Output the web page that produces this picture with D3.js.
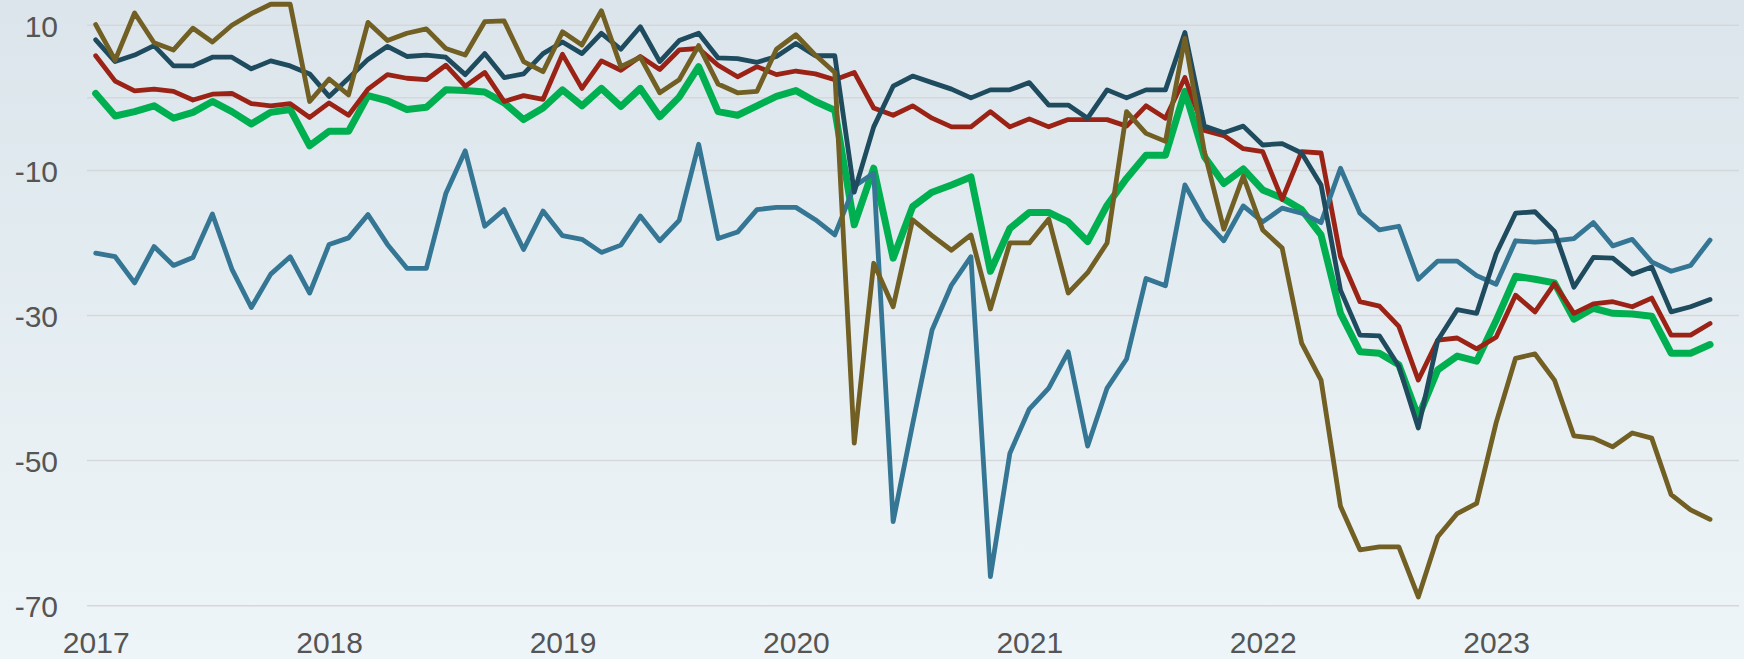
<!DOCTYPE html>
<html>
<head>
<meta charset="utf-8">
<script src="https://cdn.jsdelivr.net/npm/d3@7"></script>
<style>
  html, body { margin: 0; padding: 0; background: #e6eef2; }
  svg { display: block; }
</style>
</head>
<body>
<svg id="svg"></svg>
<script>
// monthly values, Jan 2017 .. Dec 2023
var years = ["2017", "2018", "2019", "2020", "2021", "2022", "2023"];
var yTicks = [10, -10, -30, -50, -70];
var yGrid = [10, 0, -10, -30, -50, -70];

var olive = [10.1, 5.2, 11.7, 7.6, 6.6, 9.6, 7.7, 10.0, 11.6, 12.9, 12.9, -0.5, 2.6, 0.4,
  10.4, 7.9, 8.9, 9.5, 6.8, 5.9, 10.5, 10.6, 5.0, 3.6, 9.1, 7.3, 12.0, 4.3, 5.6,
  0.7, 2.5, 7.2, 1.9, 0.7, 0.9, 6.7, 8.7, 5.9, 3.5, -47.6, -22.8, -28.8, -16.8, -19.0,
  -21.0, -18.9, -29.1, -20.0, -20.0, -16.7, -26.9, -24.1, -20.0, -1.9, -4.9, -6.0, 8.2, -7.4, -18.1,
  -10.8, -18.2, -20.7, -33.8, -38.9, -56.3, -62.3, -61.9, -61.9, -68.8, -60.5, -57.3, -55.9, -44.8, -35.9,
  -35.3, -38.9, -46.6, -46.9, -48.1, -46.2, -46.9, -54.7, -56.8, -58.1];

var navy = [8.0, 5.0, 5.9, 7.2, 4.4, 4.4, 5.6, 5.6, 4.0, 5.1, 4.4, 3.3, 0.2, 2.7,
  5.3, 7.1, 5.7, 5.9, 5.6, 3.2, 6.1, 2.8, 3.3, 6.1, 7.7, 6.1, 8.9, 6.7, 9.8,
  5.0, 7.9, 8.9, 5.5, 5.4, 4.9, 5.7, 7.5, 5.8, 5.8, -13.0, -4.0, 1.6, 3.0, 2.1,
  1.2, 0.0, 1.1, 1.1, 2.1, -1.0, -1.0, -2.8, 1.1, 0.0, 1.1, 1.1, 9.0, -3.9, -4.8,
  -3.9, -6.5, -6.3, -7.6, -12.0, -26.5, -32.7, -32.8, -37.0, -45.5, -33.4, -29.2, -29.7, -21.5, -15.9,
  -15.7, -18.4, -26.1, -22.0, -22.1, -24.3, -23.3, -29.5, -28.8, -27.8];

var red = [5.8, 2.3, 0.95, 1.2, 0.9, -0.3, 0.5, 0.6, -0.8, -1.1, -0.8, -2.7, -0.7, -2.4,
  1.2, 3.2, 2.7, 2.5, 4.5, 1.6, 3.5, -0.5, 0.3, -0.2, 6.0, 1.3, 5.1, 3.8, 5.7,
  3.9, 6.6, 6.8, 4.5, 2.9, 4.3, 3.2, 3.7, 3.3, 2.5, 3.5, -1.4, -2.4, -1.1, -2.8,
  -4.0, -4.0, -1.9, -4.0, -2.9, -4.0, -3.0, -3.0, -3.0, -3.9, -1.1, -2.8, 2.8, -4.5, -5.2,
  -7.0, -7.4, -14.0, -7.4, -7.6, -21.9, -28.1, -28.7, -31.5, -38.9, -33.4, -33.1, -34.6, -33.0, -27.2,
  -29.5, -25.6, -29.7, -28.4, -28.1, -28.8, -27.6, -32.7, -32.7, -31.1];

var green = [0.6, -2.5, -1.9, -1.1, -2.8, -2.0, -0.5, -1.9, -3.6, -2.0, -1.6, -6.6, -4.6, -4.6,
  0.3, -0.4, -1.6, -1.3, 1.1, 1.0, 0.8, -0.7, -3.0, -1.4, 1.1, -1.1, 1.3, -1.2, 1.3,
  -2.6, 0.1, 4.3, -1.9, -2.4, -1.1, 0.2, 1.0, -0.5, -1.7, -17.5, -9.7, -22.1, -15.0, -13.0,
  -12.0, -10.9, -23.9, -18.0, -15.8, -15.8, -17.1, -19.8, -14.8, -11.1, -7.9, -7.9, 0.9, -8.1, -11.8,
  -9.8, -12.7, -13.8, -15.4, -18.9, -29.7, -35.0, -35.2, -36.8, -44.0, -37.5, -35.6, -36.3, -30.7, -24.6,
  -25.0, -25.5, -30.5, -29.0, -29.7, -29.8, -30.1, -35.2, -35.2, -34.0];

var steel = [-21.4, -21.9, -25.5, -20.5, -23.1, -22.0, -16.0, -23.6, -28.9, -24.3, -21.9, -26.9, -20.2, -19.3,
  -16.1, -20.2, -23.5, -23.5, -13.2, -7.3, -17.7, -15.4, -20.9, -15.6, -19.0, -19.5, -21.3, -20.3, -16.3,
  -19.7, -16.9, -6.4, -19.4, -18.5, -15.4, -15.1, -15.1, -16.8, -18.9, -12.2, -10.4, -58.4, -45.0, -32.0,
  -25.8, -21.9, -66.0, -49.0, -42.9, -40.0, -35.0, -48.0, -40.0, -36.0, -24.9, -25.9, -12.0, -16.8, -19.7,
  -14.9, -17.1, -15.2, -15.9, -17.2, -9.7, -15.9, -18.2, -17.7, -25.0, -22.5, -22.5, -24.5, -25.7, -19.7,
  -19.9, -19.7, -19.4, -17.2, -20.4, -19.5, -22.6, -23.9, -23.1, -19.6];

// drawing order: bottom first
var series = [
  { values: green, color: "#00b050", width: 7 },
  { values: red,   color: "#9b2316", width: 4.8 },
  { values: steel, color: "#347693", width: 4.8 },
  { values: navy,  color: "#1f4b5f", width: 4.8 },
  { values: olive, color: "#715f23", width: 4.8 }
];

var width = window.innerWidth, height = window.innerHeight;
var svg = d3.select("#svg").attr("width", width).attr("height", height);

var defs = svg.append("defs");
var grad = defs.append("linearGradient")
    .attr("id", "bg").attr("x1", 0).attr("y1", 0).attr("x2", 0).attr("y2", 1);
grad.append("stop").attr("offset", "0%").attr("stop-color", "#dbe5eb");
grad.append("stop").attr("offset", "100%").attr("stop-color", "#eef5f8");

svg.append("rect")
    .attr("width", width).attr("height", height)
    .attr("fill", "url(#bg)");

var x = d3.scaleLinear().domain([0, 83]).range([95.7, 95.7 + 83 * 19.45]);
var y = d3.scaleLinear().domain([10, -70]).range([25.3, 605.7]);

// gridlines
svg.append("g")
  .selectAll("line")
  .data(yGrid)
  .enter().append("line")
    .attr("x1", 87).attr("x2", 1739)
    .attr("y1", function(d) { return y(d); })
    .attr("y2", function(d) { return y(d); })
    .attr("stroke", "#d5d8da")
    .attr("stroke-width", 1.5);

// y axis labels (plain hyphen, not unicode minus)
var yAxis = d3.axisLeft(y).tickValues(yTicks)
    .tickFormat(function(d) { return String(d); })
    .tickSize(0).tickPadding(0);
var gy = svg.append("g").attr("transform", "translate(58,0)").call(yAxis);
gy.select(".domain").remove();
gy.selectAll("text")
    .attr("font-family", "Liberation Sans, Arial, sans-serif")
    .attr("font-size", 30)
    .attr("fill", "#555")
    .attr("dy", "0.36em");

// x axis labels
var xAxis = d3.axisBottom(x)
    .tickValues(years.map(function(d, i) { return i * 12; }))
    .tickFormat(function(d) { return years[d / 12]; })
    .tickSize(0).tickPadding(0);
var gx = svg.append("g").attr("transform", "translate(0,631)").call(xAxis);
gx.select(".domain").remove();
gx.selectAll("text")
    .attr("font-family", "Liberation Sans, Arial, sans-serif")
    .attr("font-size", 30)
    .attr("fill", "#555")
    .attr("dy", "0.72em");

var line = d3.line()
    .x(function(d, i) { return x(i); })
    .y(function(d) { return y(d); });

svg.append("g")
  .selectAll("path")
  .data(series)
  .enter().append("path")
    .attr("d", function(d) { return line(d.values); })
    .attr("fill", "none")
    .attr("stroke", function(d) { return d.color; })
    .attr("stroke-width", function(d) { return d.width; })
    .attr("stroke-linejoin", "round")
    .attr("stroke-linecap", "round");
</script>
</body>
</html>
